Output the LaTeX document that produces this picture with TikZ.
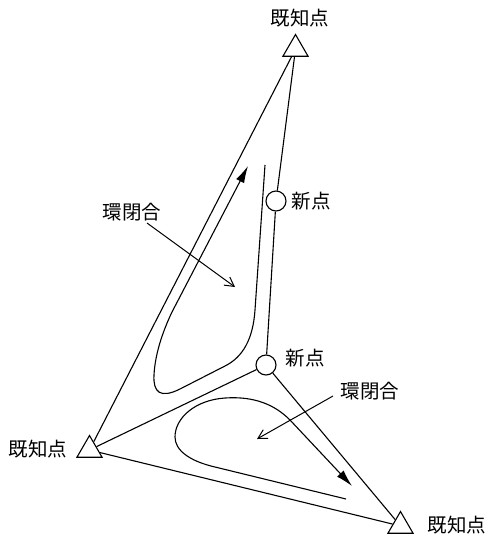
\documentclass[tikz,border=0pt]{standalone}
\usepackage{fontspec}
\newfontfamily\jp{Noto Sans CJK JP}
\usetikzlibrary{shapes.geometric,arrows.meta}
\begin{document}
\begin{tikzpicture}[x=1pt,y=-1pt,
  every path/.style={line width=1.1pt},
  known/.style={draw,regular polygon,regular polygon sides=3,minimum size=29pt,inner sep=0pt,line width=1.1pt},
  newpt/.style={draw,circle,minimum size=20pt,inner sep=0pt,line width=1.1pt},
  lbl/.style={font=\jp\fontsize{19.5}{19.5}\selectfont,inner sep=0pt},
  loopline/.style={line width=1.1pt,-{Latex[length=17pt,width=9pt]}},
  pointer/.style={line width=1pt,-{Straight Barb[length=9pt,width=10pt,line width=1pt]}}]
\useasboundingbox (0,0) rectangle (489,539);
% points
\node[known] (T1) at (295.5,49) {};
\node[known] (T2) at (89.5,450) {};
\node[known] (T3) at (400.5,526) {};
\node[newpt] (C1) at (276,201) {};
\node[newpt] (C2) at (266,365) {};
% labels
\node[lbl] (L1) at (300,18) {既知点};
\node[lbl] (L2) at (38,449) {既知点};
\node[lbl] (L3) at (457,525) {既知点};
\node[lbl] (N1) at (311,201) {新点};
\node[lbl] (N2) at (305,358) {新点};
\node[lbl] (R1) at (132,212) {環閉合};
\node[lbl] (R2) at (370,391) {環閉合};
% network
\draw (T1) -- (T2);
\draw (T1) -- (C1);
\draw (C1) -- (C2);
\draw (C2) -- (T2);
\draw (C2) -- (T3);
\draw (T2) -- (T3);
% loops
\draw[loopline] (265,165) -- (255,310)
   .. controls (253,339) and (243,357) .. (225,366)
   -- (180,389)
   .. controls (160,399) and (153,392) .. (154,375)
   .. controls (155,355) and (162,333) .. (172,312)
   -- (248,166);
\draw[loopline] (346,499) -- (215,467)
   .. controls (189,461) and (175,450) .. (175,437)
   .. controls (175,418) and (195,400) .. (225,398)
   .. controls (255,396) and (275,405) .. (290,420)
   -- (352,486);
% pointers
\coordinate (P1) at (235,287);
\coordinate (P2) at (257,439);
\draw[pointer] (147,223) -- (P1);
\draw[pointer] (333,396) -- (P2);
\end{tikzpicture}
\end{document}
